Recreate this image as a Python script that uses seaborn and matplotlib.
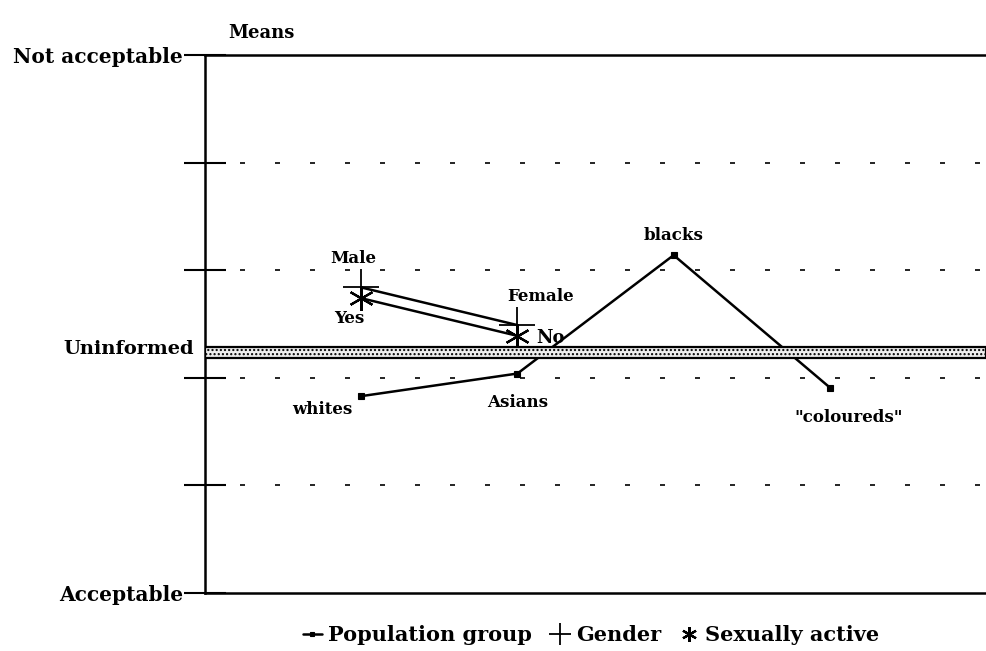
import numpy as np
import pandas as pd
import matplotlib.pyplot as plt
from matplotlib.patches import Rectangle
import seaborn as sns

# datos (escala 0 = Acceptable, 5 = Not acceptable)
pop_groups = ['whites', 'Asians', 'blacks', '"coloureds"']
pop_x = [1, 2, 3, 4]
pop_means = [1.83, 2.04, 3.14, 1.91]

gender = ['Male', 'Female']
gender_x = [1, 2]
gender_means = [2.84, 2.49]

sexual = ['Yes', 'No']
sexual_x = [1, 2]
sexual_means = [2.74, 2.39]

uninformed_low = 2.18
uninformed_high = 2.29

sns.set_style('white')
plt.rcParams['font.family'] = ['DejaVu Serif', 'DejaVu Sans']
plt.rcParams['text.color'] = 'black'
plt.rcParams['ytick.color'] = 'black'
plt.rcParams['ytick.labelcolor'] = 'black'

fig = plt.figure(figsize=(9.86, 6.51), dpi=100)
ax = fig.add_axes([0.208, 0.089, 0.792, 0.8265])

pop_df = pd.DataFrame({'x': pop_x, 'y': pop_means})
gen_df = pd.DataFrame({'x': gender_x, 'y': gender_means})
sex_df = pd.DataFrame({'x': sexual_x, 'y': sexual_means})

sns.lineplot(data=pop_df, x='x', y='y', ax=ax, color='black', lw=1.8,
             marker='s', markersize=5, markeredgecolor='black',
             markeredgewidth=0.8, label='Population group', zorder=3)
sns.lineplot(data=gen_df, x='x', y='y', ax=ax, color='black', lw=1.8,
             marker='+', markersize=26, markeredgewidth=1.3,
             markeredgecolor='black', label='Gender', zorder=3)
sns.lineplot(data=sex_df, x='x', y='y', ax=ax, color='black', lw=1.8,
             marker=(6, 2, 0), markersize=18, markeredgewidth=1.6,
             markeredgecolor='black', label='Sexually active', zorder=3)

# banda "Uninformed" (tapa las lineas)
band = Rectangle((0, uninformed_low), 5, uninformed_high - uninformed_low,
                 facecolor='#eeeeee', edgecolor='black', lw=1.6,
                 hatch='....', zorder=4)
ax.add_patch(band)

ax.set_xlim(0, 5)
ax.set_ylim(0, 5)
ax.set_xticks([])
ax.set_yticks([0, 1, 2, 3, 4, 5])
ax.set_yticklabels(['Acceptable', '', '', '', '', 'Not acceptable'],
                   fontsize=14.5, fontweight='bold')
ax.tick_params(axis='y', left=True, direction='inout', length=30,
               width=1.5, pad=1, colors='black')
for yv in [1, 2, 3, 4]:
    ax.axhline(yv, color='black', lw=1.2, ls=(0, (3, 18)), zorder=1)

for side in ['left', 'bottom', 'top']:
    ax.spines[side].set_linewidth(1.8)
    ax.spines[side].set_color('black')
ax.spines['right'].set_visible(False)
ax.set_xlabel('')
ax.set_ylabel('')

ax.text(-0.07, (uninformed_low + uninformed_high) / 2 + 0.03, 'Uninformed',
        ha='right', va='center', fontsize=14, fontweight='bold')
fig.text(0.231, 0.95, 'Means', fontsize=13, fontweight='bold', va='center')

# etiquetas de los puntos
lab_kw = dict(fontsize=12, fontweight='bold', color='black', zorder=5)
ax.text(pop_x[0] - 0.06, pop_means[0] - 0.12, pop_groups[0], ha='right', va='center', **lab_kw)
ax.text(pop_x[1], pop_means[1] - 0.27, pop_groups[1], ha='center', va='center', **lab_kw)
ax.text(pop_x[2], pop_means[2] + 0.18, pop_groups[2], ha='center', va='center', **lab_kw)
ax.text(pop_x[3] + 0.12, pop_means[3] - 0.28, pop_groups[3], ha='center', va='center', **lab_kw)
ax.text(gender_x[0] - 0.05, gender_means[0] + 0.27, gender[0], ha='center', va='center', **lab_kw)
ax.text(gender_x[1] + 0.15, gender_means[1] + 0.27, gender[1], ha='center', va='center', **lab_kw)
ax.text(sexual_x[0] - 0.08, sexual_means[0] - 0.19, sexual[0], ha='center', va='center', **lab_kw)
ax.text(sexual_x[1] + 0.12, sexual_means[1] - 0.02, sexual[1], ha='left', va='center',
        fontsize=13, fontweight='bold', zorder=5)

leg = ax.legend(loc='upper center', bbox_to_anchor=(0.494, -0.025), ncol=3,
                frameon=False, handlelength=0.9,
                handletextpad=0.3, columnspacing=0.9, markerscale=0.6,
                prop={'size': 15, 'weight': 'bold'})
# en la leyenda de Gender y Sexually active solo va el simbolo
for h in leg.legend_handles[1:]:
    h.set_linestyle('none')

fig.savefig('out.png', dpi=100)
